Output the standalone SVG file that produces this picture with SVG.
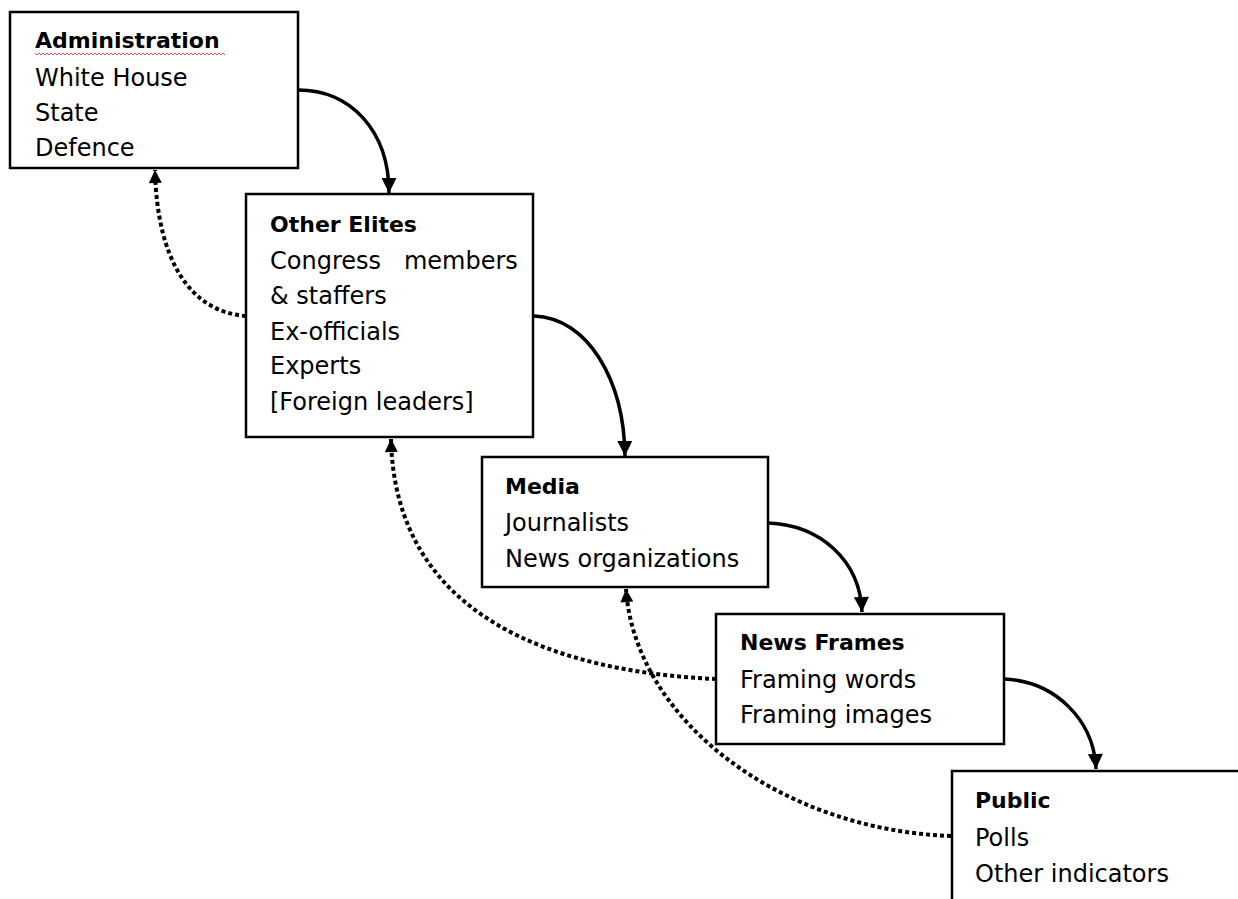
<svg xmlns="http://www.w3.org/2000/svg" width="1238" height="899" viewBox="0 0 1238 899">
<style>
.box{fill:#fff;stroke:#000;stroke-width:2.5}
.t{font-family:"DejaVu Sans",sans-serif;font-size:24px;fill:#000}
.h{font-family:"DejaVu Sans",sans-serif;font-size:22px;font-weight:bold;fill:#000}
.solid{fill:none;stroke:#000;stroke-width:3.5}
.dot{fill:none;stroke:#000;stroke-width:4;stroke-dasharray:4 3}
</style>
<defs>
<marker id="arr" viewBox="0 0 10 10" refX="10" refY="5" markerWidth="16" markerHeight="15" markerUnits="userSpaceOnUse" orient="auto">
<path d="M0,0 L10,5 L0,10 z" fill="#000"/>
</marker>
<marker id="arrd" viewBox="0 0 10 10" refX="10" refY="5" markerWidth="15" markerHeight="13" markerUnits="userSpaceOnUse" orient="auto">
<path d="M0,0 L10,5 L0,10 z" fill="#000"/>
</marker>
</defs>
<rect width="1238" height="899" fill="#fff"/>
<g id="connectors">
<path class="solid" d="M298,90 C350,90 389,130 389,193" marker-end="url(#arr)"/>
<path class="solid" d="M534,316 C588,318 624,380 625,456" marker-end="url(#arr)"/>
<path class="solid" d="M768,523 C820,525 860,560 862,612" marker-end="url(#arr)"/>
<path class="solid" d="M1004,679 C1055,681 1094,720 1096,769" marker-end="url(#arr)"/>
<path class="dot" d="M246,316 C190,312 157,260 155,170" marker-end="url(#arrd)"/>
<path class="dot" d="M716,679 C560,672 395,620 391,439" marker-end="url(#arrd)"/>
<path class="dot" d="M951,836 C780,830 635,720 626,589" marker-end="url(#arrd)"/>
</g>
<g id="administration">
<rect class="box" x="10" y="12" width="288" height="156"/>
<text class="h" x="35" y="48">Administration</text>
<path d="M35,53 l2,2 l2,-2 l2,2 l2,-2 l2,2 l2,-2 l2,2 l2,-2 l2,2 l2,-2 l2,2 l2,-2 l2,2 l2,-2 l2,2 l2,-2 l2,2 l2,-2 l2,2 l2,-2 l2,2 l2,-2 l2,2 l2,-2 l2,2 l2,-2 l2,2 l2,-2 l2,2 l2,-2 l2,2 l2,-2 l2,2 l2,-2 l2,2 l2,-2 l2,2 l2,-2 l2,2 l2,-2 l2,2 l2,-2 l2,2 l2,-2 l2,2 l2,-2 l2,2 l2,-2 l2,2 l2,-2 l2,2 l2,-2 l2,2 l2,-2 l2,2 l2,-2 l2,2 l2,-2 l2,2 l2,-2 l2,2 l2,-2 l2,2 l2,-2 l2,2 l2,-2 l2,2 l2,-2 l2,2 l2,-2 l2,2 l2,-2 l2,2 l2,-2 l2,2 l2,-2 l2,2 l2,-2 l2,2 l2,-2 l2,2 l2,-2 l2,2 l2,-2 l2,2 l2,-2 l2,2 l2,-2 l2,2 l2,-2 l2,2 l2,-2 l2,2 l2,-2 l2,2" fill="none" stroke="#e05050" stroke-width="1"/>
<text class="t" x="35" y="86">White House</text>
<text class="t" x="35" y="121">State</text>
<text class="t" x="35" y="156">Defence</text>
</g>
<g id="other-elites">
<rect class="box" x="246" y="194" width="287" height="243"/>
<text class="h" x="270" y="232">Other Elites</text>
<text class="t" x="270" y="269" xml:space="preserve">Congress   members</text>
<text class="t" x="270" y="304">&amp; staffers</text>
<text class="t" x="270" y="340">Ex-officials</text>
<text class="t" x="270" y="374">Experts</text>
<text class="t" x="270" y="410">[Foreign leaders]</text>
</g>
<g id="media">
<rect class="box" x="482" y="457" width="286" height="130"/>
<text class="h" x="505" y="494">Media</text>
<text class="t" x="505" y="531">Journalists</text>
<text class="t" x="505" y="567">News organizations</text>
</g>
<g id="news-frames">
<rect class="box" x="716" y="614" width="288" height="130"/>
<text class="h" x="740" y="650">News Frames</text>
<text class="t" x="740" y="688">Framing words</text>
<text class="t" x="740" y="723">Framing images</text>
</g>
<g id="public">
<rect class="box" x="952" y="771" width="300" height="200"/>
<text class="h" x="975" y="808">Public</text>
<text class="t" x="975" y="846">Polls</text>
<text class="t" x="975" y="882">Other indicators</text>
</g>
</svg>
